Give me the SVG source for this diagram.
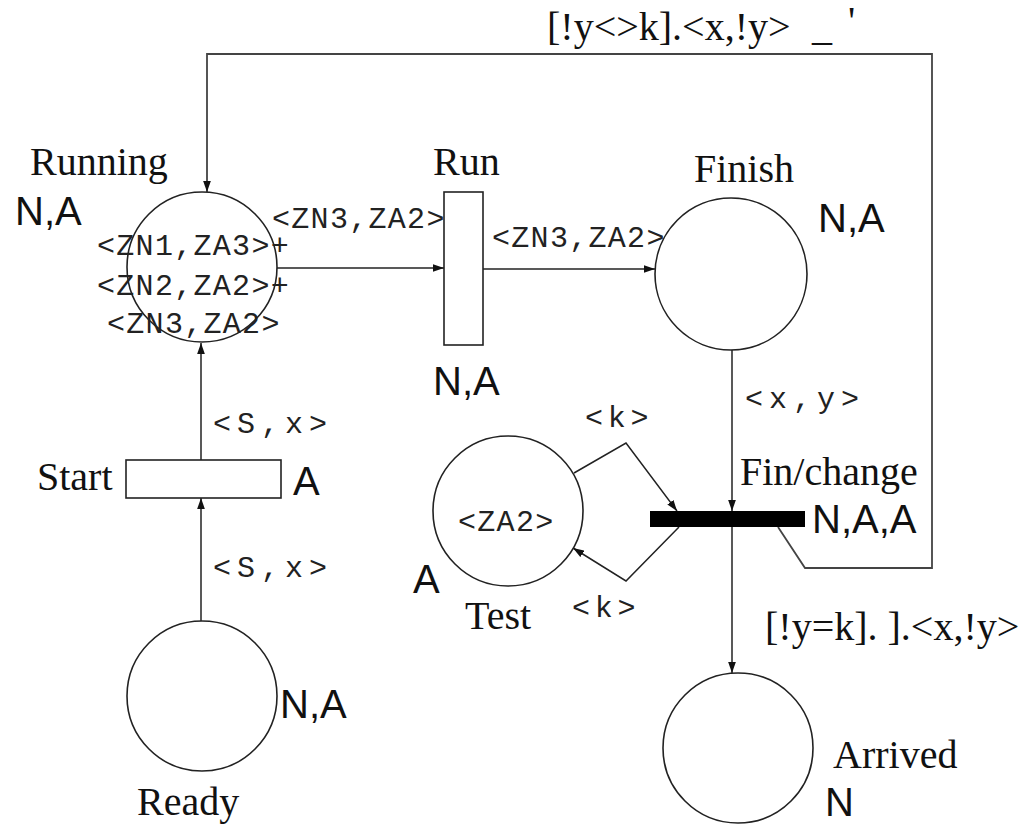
<svg xmlns="http://www.w3.org/2000/svg" width="1035" height="826" viewBox="0 0 1035 826">
<style>
.place{fill:#fff;stroke:#222;stroke-width:1.6}
.trans{fill:#fff;stroke:#222;stroke-width:1.6}
.bar{fill:#000;stroke:none}
.lbl{font-family:"Liberation Serif","Times New Roman",serif;font-size:40px;fill:#111}
.typ{font-family:"Liberation Sans",Arial,sans-serif;font-size:40px;fill:#111}
.tok{font-family:"Liberation Mono","Courier New",monospace;font-size:30px;letter-spacing:1.3px;fill:#222}
.arc{font-family:"Liberation Mono","Courier New",monospace;font-size:30px;letter-spacing:6px;fill:#222}
.arck{font-family:"Liberation Mono","Courier New",monospace;font-size:30px;letter-spacing:4.7px;fill:#222}
.edge{fill:none;stroke:#222;stroke-width:1.5}
.fb{fill:none;stroke:#444;stroke-width:1.8}
</style>
<defs>
<marker id="ah" viewBox="0 0 10 7" refX="10" refY="3.5" markerWidth="11" markerHeight="8" markerUnits="userSpaceOnUse" orient="auto">
<path d="M0,0 L10,3.5 L0,7 z" fill="#111"/>
</marker>
</defs>

<g id="connectors">
<path class="edge" d="M201,621 L201,498" marker-end="url(#ah)"/>
<path class="edge" d="M201,460 L201,343" marker-end="url(#ah)"/>
<path class="edge" d="M277,268 L444,268" marker-end="url(#ah)"/>
<path class="edge" d="M483,269 L655,269" marker-end="url(#ah)"/>
<path class="edge" d="M732,350 L732,511" marker-end="url(#ah)"/>
<path class="edge" d="M732,527 L732,673" marker-end="url(#ah)"/>
<path class="edge" d="M574,473 L626,443 L677,511" marker-end="url(#ah)"/>
<path class="edge" d="M679,527 L626,581 L573,548" marker-end="url(#ah)"/>
<path class="fb" d="M778,527 L805,568 L932,568 L932,54 L207,54 L207,192" marker-end="url(#ah)"/>
<text class="lbl" x="547" y="40">[!y&lt;&gt;k].&lt;x,!y&gt;</text>
<text class="lbl" x="812" y="40" font-size="30">_</text>
<text class="lbl" x="848" y="34" font-size="20" fill="#777">'</text>
<text class="tok" x="272" y="228">&lt;ZN3,ZA2&gt;</text>
<text class="tok" x="492" y="247">&lt;ZN3,ZA2&gt;</text>
<text class="arc" x="745" y="408">&lt;x,y&gt;</text>
<text class="arc" x="213" y="433">&lt;S,x&gt;</text>
<text class="arc" x="213" y="577">&lt;S,x&gt;</text>
<text class="arck" x="585" y="427">&lt;k&gt;</text>
<text class="arck" x="572" y="617">&lt;k&gt;</text>
<text class="lbl" x="765" y="640">[!y=k]. ].&lt;x,!y&gt;</text>
</g>

<g id="running">
<circle class="place" cx="202" cy="267" r="75"/>
<text class="lbl" x="30" y="175">Running</text>
<text class="typ" x="15" y="225">N,A</text>
<text class="tok" x="97" y="255">&lt;ZN1,ZA3&gt;+</text>
<text class="tok" x="97" y="295">&lt;ZN2,ZA2&gt;+</text>
<text class="tok" x="107" y="333">&lt;ZN3,ZA2&gt;</text>
</g>

<g id="run">
<rect class="trans" x="444" y="192" width="39" height="153"/>
<text class="lbl" x="433" y="175">Run</text>
<text class="typ" x="433" y="395">N,A</text>
</g>

<g id="finish">
<circle class="place" cx="731" cy="274" r="76"/>
<text class="lbl" x="694" y="182">Finish</text>
<text class="typ" x="818" y="232">N,A</text>
</g>

<g id="start">
<rect class="trans" x="126" y="460" width="155" height="38"/>
<text class="lbl" x="37" y="490">Start</text>
<text class="typ" x="293" y="495">A</text>
</g>

<g id="ready">
<circle class="place" cx="202" cy="696" r="75"/>
<text class="typ" x="280" y="718">N,A</text>
<text class="lbl" x="137" y="815">Ready</text>
</g>

<g id="test">
<circle class="place" cx="508" cy="511" r="75"/>
<text class="tok" x="458" y="531">&lt;ZA2&gt;</text>
<text class="typ" x="413" y="593">A</text>
<text class="lbl" x="465" y="629">Test</text>
</g>

<g id="finchange">
<rect class="bar" x="650" y="511" width="155" height="16"/>
<text class="lbl" x="740" y="485">Fin/change</text>
<text class="typ" x="812" y="533">N,A,A</text>
</g>

<g id="arrived">
<circle class="place" cx="738" cy="748" r="75"/>
<text class="lbl" x="833" y="768">Arrived</text>
<text class="typ" x="825" y="816">N</text>
</g>
</svg>
